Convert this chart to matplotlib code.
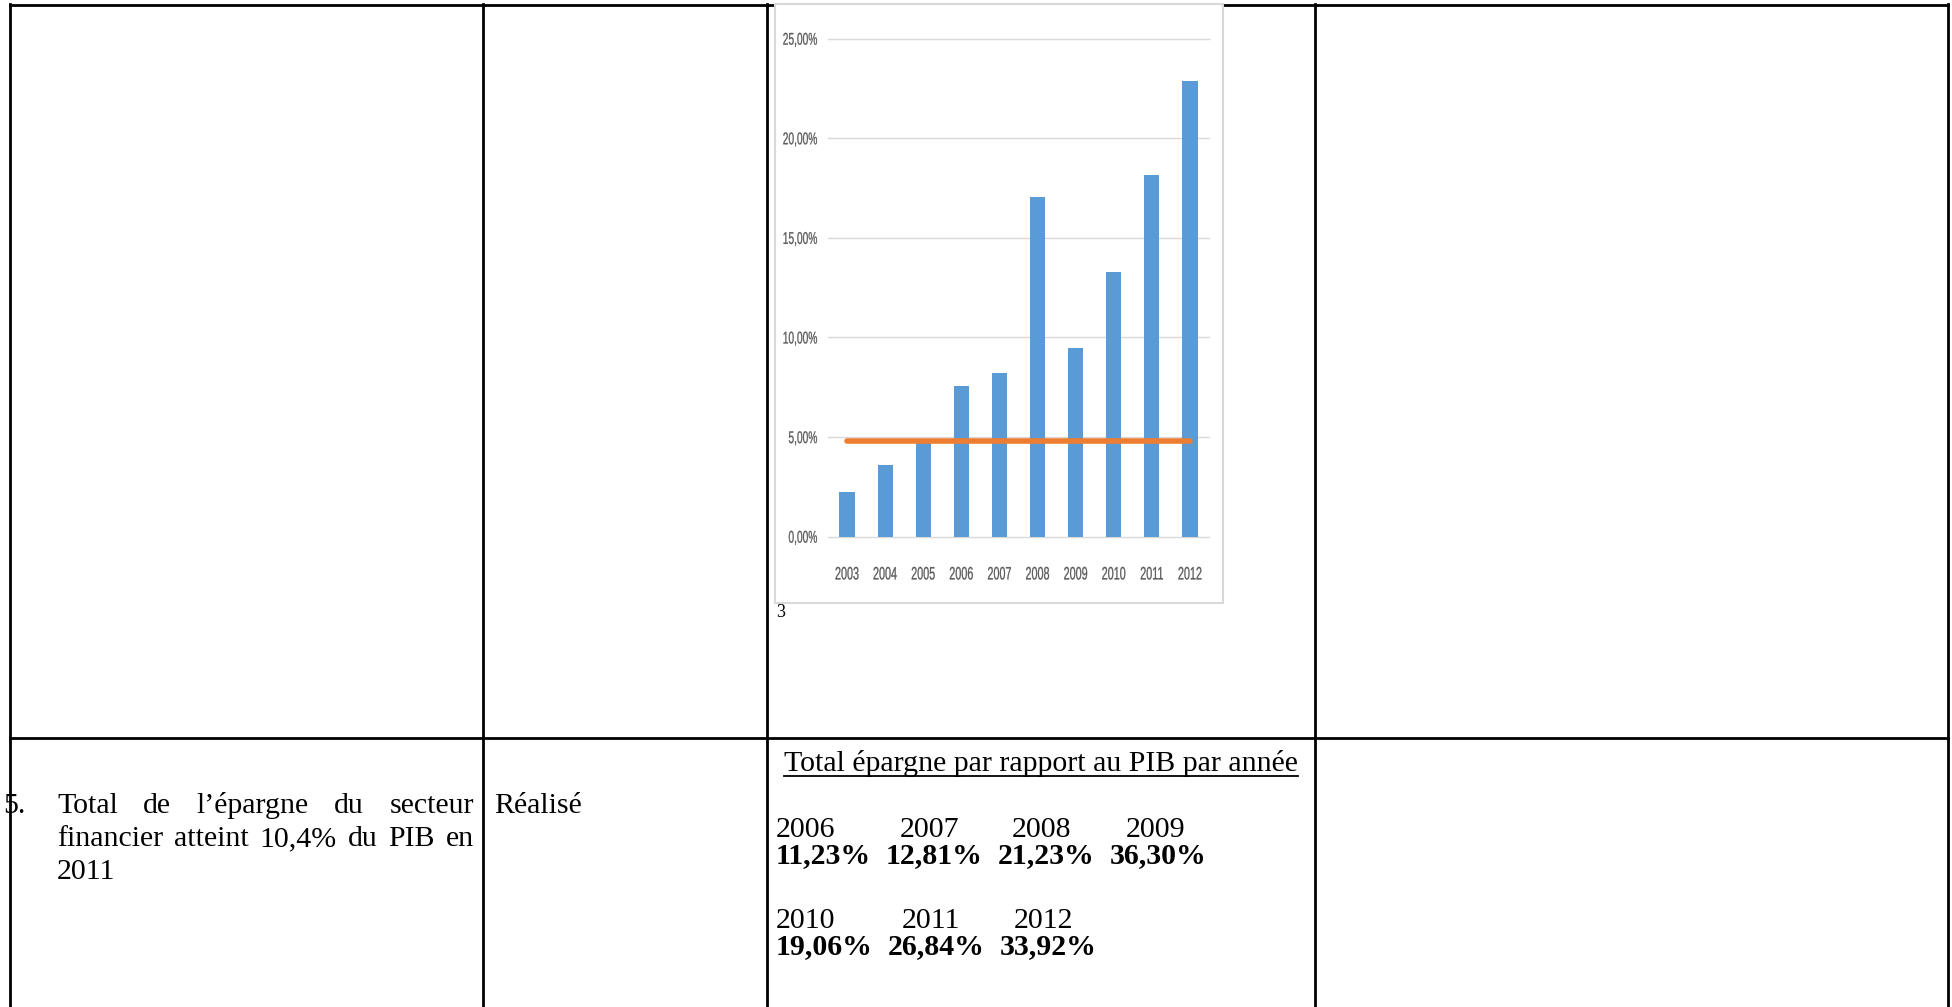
import matplotlib
matplotlib.use("Agg")
import matplotlib.pyplot as plt
from matplotlib.patches import Rectangle, PathPatch
from matplotlib.textpath import TextPath
from matplotlib.font_manager import FontProperties
from matplotlib.transforms import Affine2D

# ─── données du graphique ───
years = ["2003", "2004", "2005", "2006", "2007", "2008", "2009", "2010", "2011", "2012"]
ratio_pct = [2.24, 3.57, 4.72, 7.55, 8.23, 17.05, 9.48, 13.26, 18.14, 22.86]
target_pct = 4.8
y_ticks = [0, 5, 10, 15, 20, 25]
y_tick_labels = ["0,00%", "5,00%", "10,00%", "15,00%", "20,00%", "25,00%"]

# ─── tableau épargne / PIB ───
table_title = "Total épargne par rapport au PIB par année"
table_years_1 = ["2006", "2007", "2008", "2009"]
table_vals_1 = ["11,23%", "12,81%", "21,23%", "36,30%"]
table_years_2 = ["2010", "2011", "2012"]
table_vals_2 = ["19,06%", "26,84%", "33,92%"]

W, H = 1952, 1007
SERIF = ["Liberation Serif", "DejaVu Serif"]
BODY = 21.5

fig = plt.figure(figsize=(W / 100, H / 100), dpi=100)
page = fig.add_axes([0, 0, 1, 1])
page.set_xlim(0, W)
page.set_ylim(H, 0)
page.axis("off")

# lignes du tableau
cols = [10, 483, 767, 1315, 1948]
top, mid = 5, 738
page.plot([cols[0], cols[-1]], [top, top], color="black", lw=2.0, zorder=3)
page.plot([cols[0], cols[-1]], [mid, mid], color="black", lw=2.0, zorder=3)
for x in cols:
    page.plot([x, x], [top - 1, H], color="black", lw=2.0, zorder=3,
              solid_capstyle="projecting")

# cadre de l'image du graphique (couvre la bordure du haut)
page.add_patch(Rectangle((775, 4), 448, 599, facecolor="white",
                         edgecolor="#d9d9d9", lw=1.5, zorder=4))
page.text(776, 617, "3", family=SERIF, fontsize=13, va="baseline", zorder=5)

renderer = fig.canvas.get_renderer()


def justify(words, x0, x1, y, **kw):
    texts = [page.text(0, y, w, **kw) for w in words]
    widths = [t.get_window_extent(renderer).width for t in texts]
    gap = (x1 - x0 - sum(widths)) / (len(words) - 1)
    x = x0
    for t, w in zip(texts, widths):
        t.set_x(x)
        x += w + gap


txt = dict(family=SERIF, fontsize=BODY, va="baseline", zorder=2)
page.text(3, 813, "5.", **txt)
justify("Total de l’épargne du secteur".split(), 57, 474, 813, **txt)
justify("financier atteint 10,4% du PIB en".split(), 57, 474, 846, **txt)
page.text(57, 879, "2011", **txt)
page.text(494, 813, "Réalisé", **txt)

# titre centré dans la cellule, souligné
t = page.text((cols[2] + cols[3]) / 2, 771, table_title, ha="center", **txt)
ext = t.get_window_extent(renderer)
page.plot([ext.x0, ext.x1], [776, 776], color="black", lw=1.3)


def value_row(vals, years_row, y_year, y_val, x0=776):
    # valeurs en gras séparées par deux espaces, années au-dessus
    sep = page.text(0, y_val, "  ", fontweight="bold", **txt)
    sep_w = sep.get_window_extent(renderer).width
    sep.remove()
    offsets = [0, 14, 14, 16]
    x = x0
    for i, v in enumerate(vals):
        vt = page.text(x, y_val, v, fontweight="bold", **txt)
        page.text(x + offsets[i], y_year, years_row[i], **txt)
        x += vt.get_window_extent(renderer).width + sep_w


value_row(table_vals_1, table_years_1, 837, 863)
value_row(table_vals_2, table_years_2, 928, 954)

# ─── histogramme ───
ax = fig.add_axes([828 / W, 1 - 536.6 / H, (1209 - 828) / W, (536.6 - 38.6) / H])
ax.set_facecolor("none")
ax.set_zorder(6)
xs = list(range(len(years)))
for v in y_ticks:
    ax.axhline(v, color="#d9d9d9", lw=1.0, clip_on=False, zorder=0)
ax.bar(xs, ratio_pct, width=0.4, color="#5b9bd5", zorder=2)
ax.plot([xs[0], xs[-1]], [target_pct, target_pct], color="#ed7d31",
        lw=4.0, solid_capstyle="round", zorder=3)
ax.set_xlim(-0.5, len(years) - 0.5)
ax.set_ylim(0, 25)
ax.set_xticks([])
ax.set_yticks([])
for s in ax.spines.values():
    s.set_visible(False)

# étiquettes d'axes en police étroite (texte compressé horizontalement)
label_fp = FontProperties(family="Liberation Sans")
SX = 0.6


def narrow_label(s, x, y_mid, em, ha):
    path = TextPath((0, 0), s, size=em, prop=label_fp)
    bb = path.get_extents()
    if ha == "right":
        dx = x - bb.x1 * SX
    else:
        dx = x - (bb.x0 + bb.x1) / 2 * SX
    base = y_mid + 0.716 * em / 2
    tr = Affine2D().scale(SX, -1).translate(dx, base)
    page.add_patch(PathPatch(tr.transform_path(path), facecolor="#595959",
                             edgecolor="#595959", lw=0.2, zorder=7))


def to_page(x, y):
    px, py = ax.transData.transform((x, y))
    return px, H - py


for v, lab in zip(y_ticks, y_tick_labels):
    _, py = to_page(0, v)
    narrow_label(lab, 817, py, 17.0, "right")
for i, yr in enumerate(years):
    px, _ = to_page(i, 0)
    narrow_label(yr, px, 573, 18.0, "center")

fig.savefig("out.png", dpi=100)
